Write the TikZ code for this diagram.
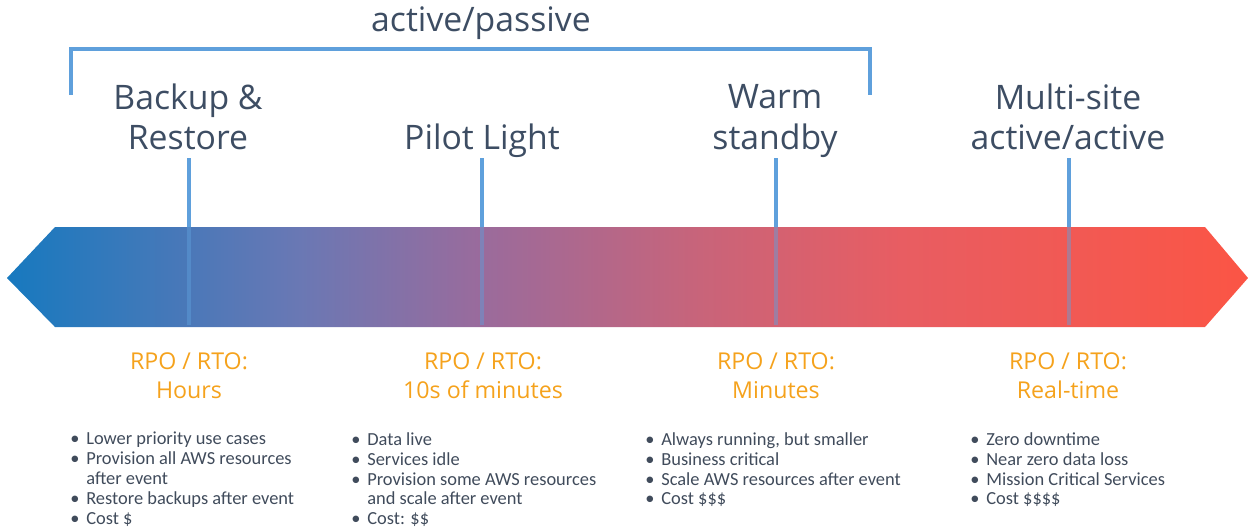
\documentclass[tikz,border=0pt]{standalone}
\usepackage{fontspec}
\setmainfont{Open Sans}
\newfontfamily\bulletfont{Carlito}
\usetikzlibrary{positioning}

\definecolor{dpblue}{HTML}{1779BF}
\definecolor{dpslate}{HTML}{6A78B4}
\definecolor{dpmauve}{HTML}{9A6B9C}
\definecolor{dprose}{HTML}{C8647A}
\definecolor{dpcoral}{HTML}{E85D62}
\definecolor{dpred}{HTML}{FB5545}
\definecolor{dptext}{HTML}{3D4D63}
\definecolor{dpgrey}{HTML}{404B5B}
\definecolor{dporange}{HTML}{F5A21C}
\definecolor{dptick}{HTML}{5FA0DC}

\pgfdeclarehorizontalshading{drspectrum}{100bp}{color(0bp)=(dpblue); color(25bp)=(dpblue);
  color(36.8bp)=(dpslate); color(44.1bp)=(dpmauve); color(52.9bp)=(dprose);
  color(61bp)=(dpcoral); color(75bp)=(dpred); color(100bp)=(dpred)}

\tikzset{
  heading/.style={text=dptext, font=\fontsize{24}{28.5}\selectfont, align=center},
  rpolabel/.style={text=dporange, font=\fontsize{16.5}{20.6}\selectfont, align=center},
  bullets/.style={text=dpgrey, font=\bulletfont\fontsize{13.1}{14.2}\selectfont,
    align=left, anchor=north west, inner sep=0pt},
  tick/.style={draw=dptick, line width=2.2pt},
}
\newcommand{\bul}[1]{\makebox[11.4pt][l]{\textbullet}#1}
\newcommand{\cont}[1]{\hspace*{11.4pt}#1}

\begin{document}
\begin{tikzpicture}[x=0.025cm, y=-0.025cm]
    \useasboundingbox (0,0) rectangle (1248,529);
    \shade[shading=drspectrum] (7,278) -- (55,227) -- (1205,227) -- (1248,278)
        -- (1205,327) -- (55,327) -- cycle;% draw the arrow
    % ticks on the arrow
    \foreach \x/\n in {189/1,482/2,776/3,1069/4} {
        \coordinate (top\n) at (\x,158);
        \coordinate (edge\n) at (\x,227);
        \coordinate (bot\n) at (\x,325);
        \draw[tick] (top\n) -- (edge\n);
        \draw[tick, opacity=0.45] (edge\n) -- (bot\n);
    }
    % bracket over the active/passive ones
    \node[heading] (ap) at (481,23) {active/passive};
    \coordinate (brl) at (71,95);
    \coordinate (brr) at (870,95);
    \draw[tick] (brl) -- ++(0,-46) -| (brr);
    % strategies
    \node[heading] (backup) at (188,117) {Backup \&\\Restore};
    \node[heading] (pilot) at (482,141) {Pilot Light};
    \node[heading] (warm) at (775,121) {Warm\\standby};
    \node[heading] (multi) at (1068,117) {Multi-site\\active/active};
    % RPO / RTO
    \node[rpolabel] (rpo1) at (189,376) {RPO / RTO:\\Hours};
    \node[rpolabel] (rpo2) at (483,376) {RPO / RTO:\\10s of minutes};
    \node[rpolabel] (rpo3) at (776,376) {RPO / RTO:\\Minutes};
    \node[rpolabel] (rpo4) at (1068,376) {RPO / RTO:\\Real-time};
    % notes
    \node[bullets] (note1) at (70,432) {\bul{Lower priority use cases}\\
        \bul{Provision all AWS resources}\\\cont{after event}\\
        \bul{Restore backups after event}\\\bul{Cost \$}};
    \node[bullets] (note2) at (351,432) {\bul{Data live}\\\bul{Services idle}\\
        \bul{Provision some AWS resources}\\\cont{and scale after event}\\
        \bul{Cost: \$\$}};
    \node[bullets] (note3) at (645,432) {\bul{Always running, but smaller}\\
        \bul{Business critical}\\\bul{Scale AWS resources after event}\\
        \bul{Cost \$\$\$}};
    \node[bullets] (note4) at (970,432) {\bul{Zero downtime}\\
        \bul{Near zero data loss}\\\bul{Mission Critical Services}\\
        \bul{Cost \$\$\$\$}};
\end{tikzpicture}
\end{document}
